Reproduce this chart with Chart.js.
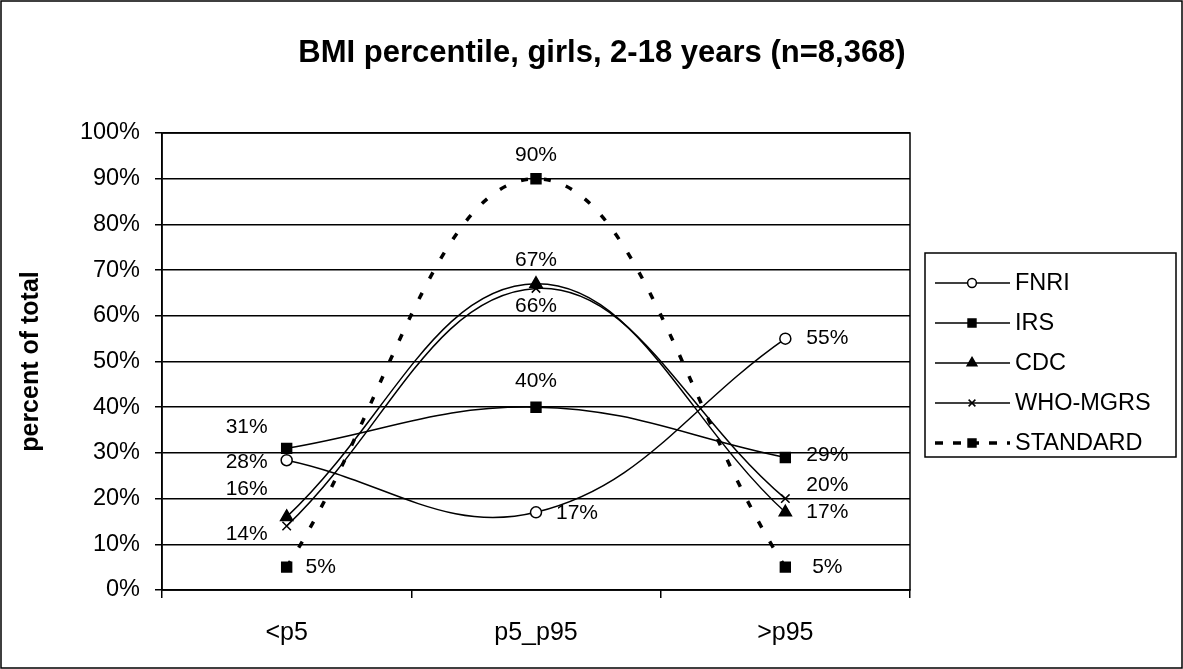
<!DOCTYPE html>
<html>
<head>
<meta charset="utf-8">
<title>BMI percentile, girls</title>
<script src="https://cdn.jsdelivr.net/npm/chart.js@4.4.1/dist/chart.umd.min.js"></script>
<style>
  html, body { margin: 0; padding: 0; background: #fff; }
  #wrap { width: 1183px; height: 669px; }
</style>
</head>
<body>
<div id="wrap"><canvas id="grafico" width="1183" height="669"></canvas></div>
<script>
// dados do gráfico
const titulo = 'BMI percentile, girls, 2-18 years (n=8,368)';
const categorias = ['<p5', 'p5_p95', '>p95'];
const fnri = [28.4, 17, 55];
const irs = [31, 40, 29];
const cdc = [16, 67, 17];
const whoMgrs = [14, 66, 20];
const standard = [5, 90, 5];
const yTicks = [0, 10, 20, 30, 40, 50, 60, 70, 80, 90, 100];

const FONTE = "'Liberation Sans', Arial, sans-serif";

// título (centrado como no Excel, não no meio da área do gráfico)
const tituloPlugin = {
    id: 'tituloPlugin',
    afterDraw(chart) {
        const ctx = chart.ctx;
        ctx.save();
        ctx.fillStyle = '#000';
        ctx.font = 'bold 31px ' + FONTE;
        ctx.textAlign = 'center';
        ctx.textBaseline = 'middle';
        ctx.fillText(titulo, 602, 53);
        ctx.restore();
    }
};

// plugin para os rótulos de dados (posição de cada rótulo ao lado do ponto)
const rotulos = {
    id: 'rotulos',
    afterDatasetsDraw(chart) {
        const ctx = chart.ctx;
        ctx.save();
        ctx.fillStyle = '#000';
        ctx.font = '21px ' + FONTE;
        ctx.textAlign = 'center';
        ctx.textBaseline = 'middle';
        chart.data.datasets.forEach((ds, i) => {
            const meta = chart.getDatasetMeta(i);
            meta.data.forEach((pt, j) => {
                const off = ds.labelOffsets[j];
                ctx.fillText(Math.round(ds.data[j]) + '%', pt.x + off[0], pt.y + off[1]);
            });
        });
        ctx.restore();
    }
};

// borda da área do gráfico e borda externa
const bordas = {
    id: 'bordas',
    beforeDatasetsDraw(chart) {
        const { ctx, chartArea: a } = chart;
        ctx.save();
        ctx.strokeStyle = '#000';
        ctx.lineWidth = 1.5;
        ctx.strokeRect(a.left, a.top, a.right - a.left, a.bottom - a.top);
        ctx.restore();
    },
    afterDraw(chart) {
        const ctx = chart.ctx;
        ctx.save();
        ctx.strokeStyle = '#000';
        ctx.lineWidth = 1.5;
        ctx.strokeRect(1, 1, chart.width - 2, chart.height - 2);
        ctx.restore();
    }
};

// legenda desenhada à mão (linha + marcador, como no Excel)
const legenda = {
    id: 'legenda',
    afterDraw(chart) {
        const ctx = chart.ctx;
        const x0 = 925, y0 = 253, w = 251, h = 204;
        ctx.save();
        ctx.strokeStyle = '#000';
        ctx.lineWidth = 1.5;
        ctx.strokeRect(x0, y0, w, h);
        chart.data.datasets.forEach((ds, i) => {
            const y = y0 + 30 + i * 40;
            ctx.beginPath();
            ctx.lineWidth = ds.borderWidth;
            ctx.setLineDash(ds.borderDash ? [8, 10] : []);
            ctx.moveTo(x0 + 10, y);
            ctx.lineTo(x0 + 85, y);
            ctx.stroke();
            ctx.setLineDash([]);
            ctx.lineWidth = 1.5;
            ctx.fillStyle = ds.pointBackgroundColor;
            Chart.helpers.drawPoint(ctx, {
                pointStyle: ds.pointStyle,
                radius: ds.pointRadius * 0.8,
                borderWidth: 1.5,
                rotation: 0
            }, x0 + 47, y);
            ctx.fillStyle = '#000';
            ctx.font = '23.5px ' + FONTE;
            ctx.textAlign = 'left';
            ctx.textBaseline = 'middle';
            ctx.fillText(ds.label, x0 + 90, y + 1);
        });
        ctx.restore();
    }
};

function serie(label, data, estilo, raio, fundo, offsets, extra) {
    return Object.assign({
        label: label,
        data: data,
        borderColor: '#000',
        borderWidth: 1.5,
        pointStyle: estilo,
        pointRadius: raio,
        pointHoverRadius: raio,
        pointBackgroundColor: fundo,
        pointBorderColor: '#000',
        pointBorderWidth: 1.5,
        tension: 0.4,
        fill: false,
        labelOffsets: offsets
    }, extra || {});
}

new Chart(document.getElementById('grafico'), {
    type: 'line',
    data: {
        labels: categorias,
        datasets: [
            serie('FNRI', fnri, 'circle', 5.5, '#fff', [[-40, 2], [41, 1], [42, 0]]),
            serie('IRS', irs, 'rect', 7, '#000', [[-40, -21], [0, -26], [42, -2]]),
            serie('CDC', cdc, 'triangle', 7, '#000', [[-40, -28], [0, -24], [42, 0]]),
            serie('WHO-MGRS', whoMgrs, 'crossRot', 6, '#000', [[-40, 8], [0, 18], [42, -13]]),
            serie('STANDARD', standard, 'rect', 7, '#000', [[34, 0], [0, -23], [42, 0]],
                { borderWidth: 3.5, borderDash: [7, 16] })
        ]
    },
    options: {
        responsive: false,
        animation: false,
        layout: { padding: { top: 133, left: 16, right: 273, bottom: 10 } },
        plugins: {
            legend: { display: false },
            tooltip: { enabled: false },
            title: { display: false }
        },
        scales: {
            x: {
                offset: true,
                afterFit(scale) { scale.height = 69; },
                grid: {
                    offset: true,
                    drawOnChartArea: false,
                    drawTicks: true,
                    tickLength: 8,
                    color: '#000',
                    lineWidth: 1.5
                },
                border: { color: '#000', width: 1.5 },
                ticks: {
                    color: '#000',
                    font: { family: FONTE, size: 25 },
                    padding: 20
                }
            },
            y: {
                min: 0,
                max: 100,
                afterFit(scale) { scale.width = 146; },
                afterBuildTicks(scale) { scale.ticks = yTicks.map(v => ({ value: v })); },
                grid: {
                    color: '#000',
                    lineWidth: 1.5,
                    drawTicks: true,
                    tickLength: 7
                },
                border: { color: '#000', width: 1.5 },
                ticks: {
                    color: '#000',
                    font: { family: FONTE, size: 23.5 },
                    padding: 15,
                    callback: v => v + '%'
                },
                title: {
                    display: true,
                    text: 'percent of total',
                    color: '#000',
                    font: { family: FONTE, size: 25, weight: 'bold' },
                    padding: { top: 0, bottom: 10 }
                }
            }
        }
    },
    plugins: [bordas, rotulos, legenda, tituloPlugin]
});
</script>
</body>
</html>
